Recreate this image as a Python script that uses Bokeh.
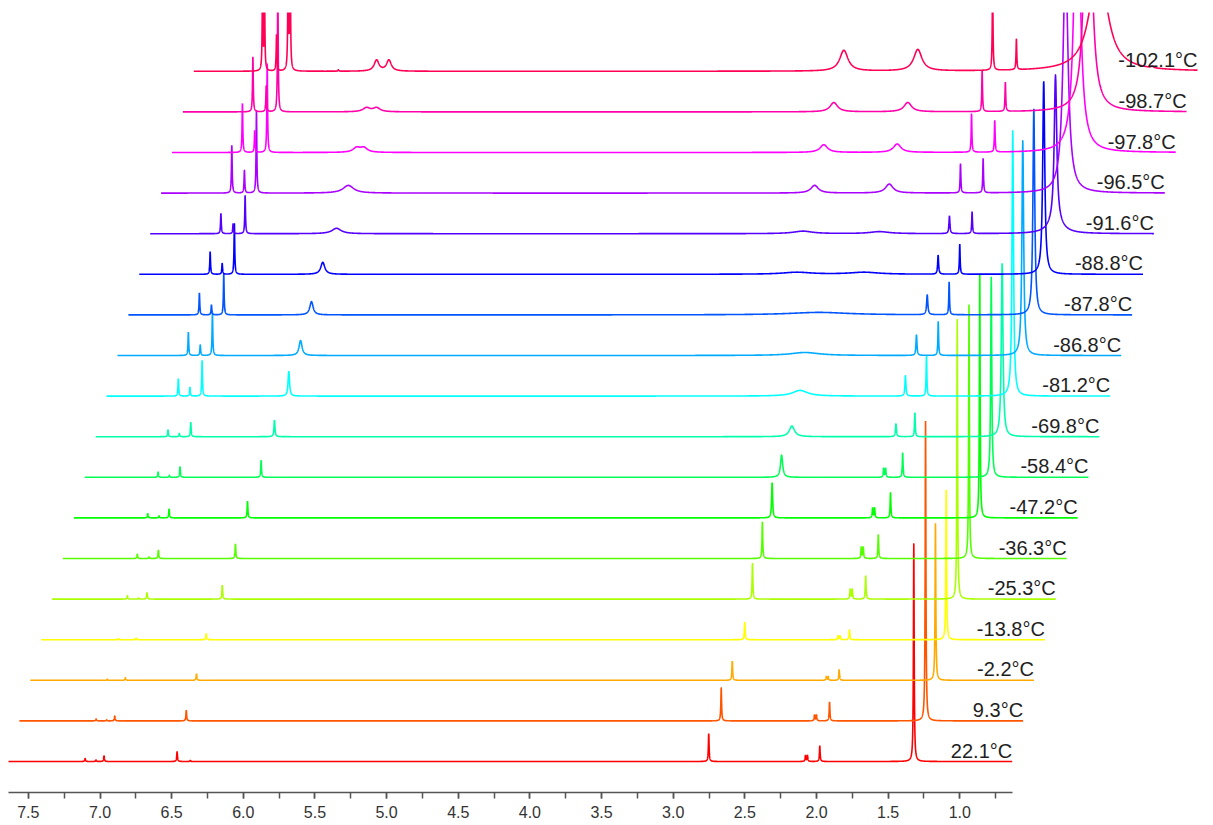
import numpy as np
from bokeh.plotting import figure
from bokeh.models import Range1d, FixedTicker, NumeralTickFormatter
from bokeh.embed import file_html
from bokeh.resources import INLINE
from bokeh.core.properties import value

# ---------------- data ----------------
temperatures = ["22.1°C", "9.3°C", "-2.2°C", "-13.8°C", "-25.3°C", "-36.3°C",
                "-47.2°C", "-58.4°C", "-69.8°C", "-81.2°C", "-86.8°C", "-87.8°C",
                "-88.8°C", "-91.6°C", "-96.5°C", "-97.8°C", "-98.7°C", "-102.1°C"]

trace_colors = ["#FF0000", "#FF5500", "#FFAA00", "#FFFF00", "#AAFF00", "#55FF00",
                "#00FF00", "#00FF55", "#00FFAA", "#00FFFF", "#00AAFF", "#0055FF",
                "#0000FF", "#5500FF", "#AA00FF", "#FF00FF", "#FF00AA", "#FF0055"]

major_ticks = [7.5, 7.0, 6.5, 6.0, 5.5, 5.0, 4.5, 4.0, 3.5, 3.0, 2.5, 2.0, 1.5, 1.0]
minor_ticks = [7.5, 7.25, 7.0, 6.75, 6.5, 6.25, 6.0, 5.75, 5.5, 5.25, 5.0, 4.75, 4.5,
               4.25, 4.0, 3.75, 3.5, 3.25, 3.0, 2.75, 2.5, 2.25, 2.0, 1.75, 1.5, 1.25,
               1.0, 0.75]

# peak lists: (chemical shift ppm, intensity, half width ppm [optional])
spec_22_1 = [(7.104, 3.0), (7.028, 1.5), (6.972, 5.7), (6.462, 10.0), (6.370, 1.0),
             (2.752, 28.0), (2.077, 6.0), (2.063, 6.0), (1.977, 15.7), (1.321, 218.0)]
spec_9_3 = [(7.103, 2.0), (7.030, 1.0), (6.973, 5.0), (6.474, 10.7), (2.741, 33.0),
            (2.090, 6.0), (2.076, 6.0), (1.985, 19.0), (1.315, 300.0)]
spec_m2_2 = [(7.101, 1.0), (6.975, 2.7), (6.479, 6.7), (2.740, 19.3), (2.084, 3.8),
             (2.070, 3.8), (1.994, 10.7), (1.322, 157.0)]
spec_m13_8 = [(7.100, 1.0), (6.976, 1.5), (6.487, 6.0), (2.729, 17.7), (2.078, 3.8),
              (2.064, 3.8), (1.998, 10.0), (1.323, 150.0)]
spec_m25_3 = [(7.113, 3.3), (7.036, 1.0), (6.976, 6.7), (6.451, 14.0), (2.751, 36.0),
              (2.069, 10.0), (2.055, 10.0), (1.961, 23.3), (1.322, 280.0)]
spec_m36_3 = [(7.120, 4.3), (7.038, 1.5), (6.973, 8.3), (6.435, 14.7), (2.758, 36.7),
              (2.068, 11.5), (2.054, 11.5), (1.949, 24.0), (1.316, 254.0)]
spec_m47_2 = [(7.123, 4.3), (7.044, 2.0), (6.974, 9.0), (6.427, 16.7), (2.766, 35.3, 0.004),
              (2.065, 10.0), (2.051, 10.0), (1.940, 25.3), (1.317, 243.7)]
spec_m58_4 = [(7.127, 5.3), (7.048, 2.0), (6.974, 10.7), (6.408, 17.0), (2.776, 22.3, 0.009),
              (2.064, 9.0), (2.050, 9.0), (1.931, 24.7), (1.313, 200.6, 0.0044)]
spec_m69_8 = [(7.134, 6.7), (7.055, 3.3), (6.975, 14.3), (6.391, 16.7, 0.004),
              (2.780, 10.7, 0.022), (2.054, 13.0, 0.004), (1.922, 24.0),
              (1.313, 173.4, 0.007)]
spec_m81_2 = [(7.138, 17.4), (7.057, 8.7), (6.972, 35.7), (6.367, 25.0, 0.006),
              (2.799, 5.7, 0.064), (2.064, 20.7, 0.004), (1.917, 40.7),
              (1.315, 265.7, 0.0063)]
spec_m86_8 = [(7.144, 23.3), (7.061, 10.7), (6.976, 43.0), (6.361, 15.0, 0.0125),
              (2.842, 3.0, 0.12), (2.063, 20.7, 0.004), (1.911, 34.0),
              (1.321, 215.0, 0.0072)]
spec_m87_8 = [(7.143, 22.0), (7.059, 10.0), (6.973, 41.0), (6.361, 13.3, 0.014),
              (2.820, 2.5, 0.25), (2.064, 20.0, 0.005), (1.911, 33.0),
              (1.320, 206.0, 0.0075)]
spec_m88_8 = [(7.144, 22.6), (7.060, 11.0), (6.975, 51.0), (6.358, 12.0, 0.017),
              (3.050, 2.0, 0.12), (2.580, 2.0, 0.12), (2.064, 19.0, 0.004), (1.913, 30.0),
              (1.327, 193.0, 0.0085)]
spec_m91_6 = [(7.145, 20.3), (7.060, 10.0), (6.976, 38.4), (6.338, 5.4, 0.039),
              (3.084, 2.5, 0.08), (2.549, 2.0, 0.08), (2.061, 17.7, 0.004), (1.903, 22.0),
              (1.321, 147.0, 0.0105), (1.321, 12.0, 0.056)]
spec_m96_5 = [(7.145, 47.7), (7.057, 22.7), (6.973, 82.7), (6.332, 7.7, 0.045),
              (3.078, 7.7, 0.032), (2.557, 9.0, 0.032), (2.060, 29.4), (1.902, 34.4),
              (1.327, 234.0, 0.021)]
spec_m97_8 = [(7.147, 49.0), (7.061, 22.0), (6.974, 89.0), (6.350, 4.5, 0.03),
              (6.300, 4.5, 0.03), (3.090, 7.7, 0.032), (2.578, 8.4, 0.032),
              (2.059, 38.3), (1.897, 31.7), (1.322, 300.0, 0.024)]
spec_m98_7 = [(7.150, 55.0), (7.057, 26.0), (6.976, 130.0), (6.357, 4.0, 0.03),
              (6.287, 4.0, 0.03), (3.096, 9.3, 0.032), (2.580, 9.3, 0.032),
              (2.061, 41.0), (1.899, 29.3), (1.322, 350.0, 0.024)]
spec_m102_1 = [(7.159, 80.0), (7.145, 80.0), (7.061, 36.5), (6.980, 120.0), (6.966, 120.0),
               (6.630, 1.5), (6.363, 11.0, 0.02), (6.277, 11.0, 0.02),
               (3.102, 20.8, 0.035), (2.586, 21.5, 0.035), (2.064, 90.0), (1.898, 30.7),
               (1.325, 110.0, 0.07), (0.950, 1.5, 0.01)]

spectra = [spec_22_1, spec_9_3, spec_m2_2, spec_m13_8, spec_m25_3, spec_m36_3,
           spec_m47_2, spec_m58_4, spec_m69_8, spec_m81_2, spec_m86_8, spec_m87_8,
           spec_m88_8, spec_m91_6, spec_m96_5, spec_m97_8, spec_m98_7, spec_m102_1]

# ---------------- layout constants ----------------
PPM_HIGH, PPM_LOW = 7.6385, 0.6344   # acquired window of every trace
SHIFT = 0.07606                      # horizontal offset (ppm) per trace
BASE0, STEP = 31.0, 40.6             # vertical offset of traces
SHARP = 0.003                        # default half width
LABEL_LIFT = 11                      # label baseline above its trace


def trace(peaks):
    parts = [np.linspace(PPM_LOW, PPM_HIGH, 3000)]
    for pk in peaks:
        c = pk[0]
        w = pk[2] if len(pk) > 2 else SHARP
        parts.append(np.linspace(c - 30 * w, c + 30 * w, 241))
    x = np.unique(np.concatenate(parts))
    x = x[(x >= PPM_LOW) & (x <= PPM_HIGH)]
    y = np.zeros_like(x)
    for pk in peaks:
        c, h = pk[0], pk[1]
        w = pk[2] if len(pk) > 2 else SHARP
        y += h / (1.0 + ((x - c) / w) ** 2)
    return x, y


x_left = 3.0 + 672.7 / 143.3
x_right = 3.0 - (1213 - 672.7) / 143.3

p = figure(frame_width=1213, frame_height=780,
           x_range=Range1d(x_left, x_right), y_range=Range1d(0, 780),
           toolbar_location=None, output_backend="svg", y_axis_location=None,
           min_border_left=0, min_border_right=0, min_border_top=12, min_border_bottom=0)
p.background_fill_color = "white"
p.border_fill_color = "white"
p.outline_line_color = None
p.xgrid.visible = False
p.ygrid.visible = False

for k, (peaks, col) in enumerate(zip(spectra, trace_colors)):
    x, y = trace(peaks)
    p.line(x - k * SHIFT, y + BASE0 + k * STEP, line_color=col, line_width=1.6)

label_x = [PPM_LOW - k * SHIFT for k in range(len(temperatures))]
label_y = [BASE0 + k * STEP + LABEL_LIFT for k in range(len(temperatures))]
p.text(x=label_x, y=label_y, text=temperatures, text_align="right",
       text_baseline="alphabetic", text_font=value("Liberation Sans"),
       text_font_size="20px", text_color="#1e1e1e")

ax = p.xaxis[0]
ax.ticker = FixedTicker(ticks=major_ticks, minor_ticks=minor_ticks)
ax.formatter = NumeralTickFormatter(format="0.0")
ax.bounds = (PPM_LOW, PPM_HIGH)
ax.axis_line_color = "#555555"
ax.axis_line_width = 1.5
ax.major_tick_line_color = "#555555"
ax.major_tick_line_width = 1.5
ax.minor_tick_line_color = "#555555"
ax.minor_tick_line_width = 1.5
ax.major_tick_in = 0
ax.major_tick_out = 6
ax.minor_tick_in = 0
ax.minor_tick_out = 6
ax.major_label_standoff = 7
ax.major_label_text_font = "Liberation Sans"
ax.major_label_text_font_size = "16px"
ax.major_label_text_color = "#333333"

open("out.html", "w").write(file_html(p, INLINE))
